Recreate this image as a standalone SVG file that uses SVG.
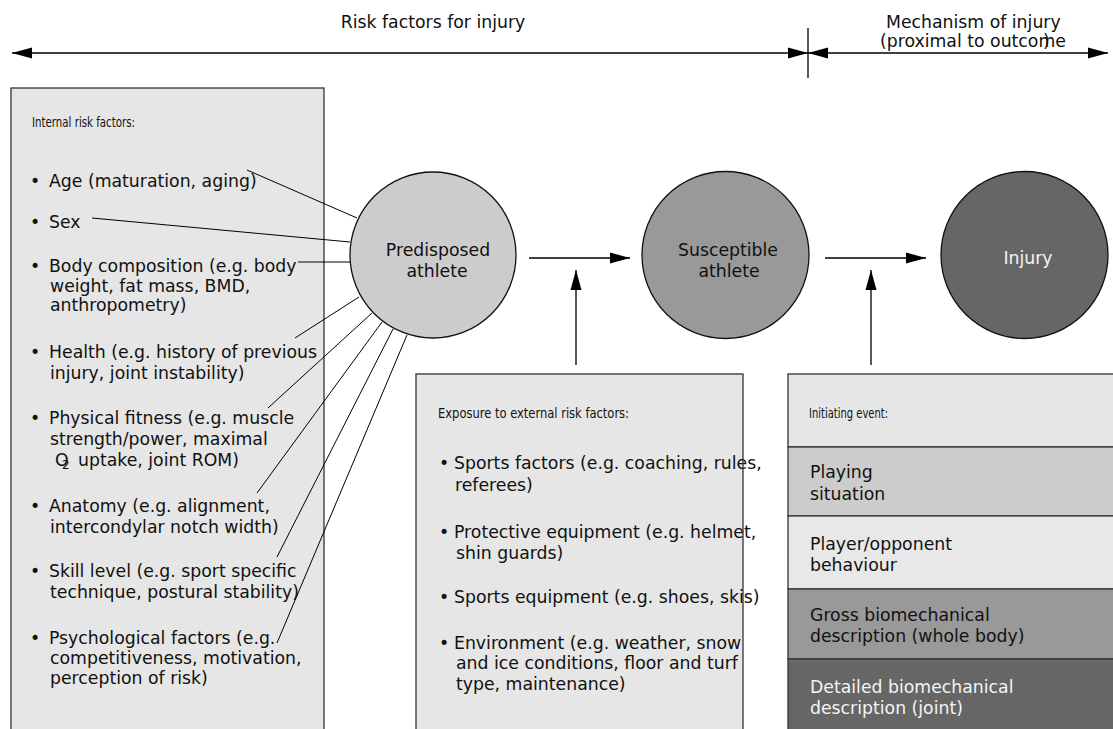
<svg xmlns="http://www.w3.org/2000/svg" width="1113" height="729" viewBox="0 0 1113 729">
<style>
  text { font-family: "DejaVu Sans", "Open Sans", sans-serif; font-size: 17.3px; fill: #111; }
  .hd { font-size: 14.5px; }
  .wt { fill: #f4f4f4; }
  .box { stroke: #333; stroke-width: 1.3; }
  .edge { stroke: #000; stroke-width: 1; fill: none; }
  .arr { stroke: #000; stroke-width: 1.3; fill: none; }
  .circ { stroke: #111; stroke-width: 1.3; }
</style>
<defs>
  <marker id="ah" markerWidth="20" markerHeight="12" refX="20" refY="6" orient="auto-start-reverse" markerUnits="userSpaceOnUse">
    <path d="M0,0.5 L20,6 L0,11.5 Z" fill="#000"/>
  </marker>
</defs>
<rect width="1113" height="729" fill="#fff"/>

<g id="header">
  <text x="433" y="28" text-anchor="middle">Risk factors for injury</text>
  <text x="886" y="28">Mechanism of injury</text>
  <text x="880" y="47">(proximal to outcome</text>
  <text x="1043" y="47">)</text>
</g>

<g id="internal-risk-factors">
  <rect class="box" x="11" y="88" width="313" height="660" fill="#e6e6e6"/>
  <text class="hd" x="32" y="127" textLength="103" lengthAdjust="spacingAndGlyphs">Internal risk factors:</text>
  <text x="30" y="187">•</text><text x="49" y="187">Age (maturation, aging)</text>
  <text x="30" y="228">•</text><text x="49" y="228">Sex</text>
  <text x="30" y="272">•</text><text x="49" y="272">Body composition (e.g. body</text>
  <text x="50" y="292">weight, fat mass, BMD,</text>
  <text x="50" y="311">anthropometry)</text>
  <text x="30" y="358">•</text><text x="49" y="358">Health (e.g. history of previous</text>
  <text x="50" y="379">injury, joint instability)</text>
  <text x="30" y="424">•</text><text x="49" y="424">Physical fitness (e.g. muscle</text>
  <text x="50" y="445">strength/power, maximal</text>
  <text x="55" y="466">O<tspan x="62" y="469" font-size="12">2</tspan><tspan x="78" y="466">uptake, joint ROM)</tspan></text>
  <text x="30" y="512">•</text><text x="49" y="512">Anatomy (e.g. alignment,</text>
  <text x="50" y="533">intercondylar notch width)</text>
  <text x="30" y="577">•</text><text x="49" y="577">Skill level (e.g. sport specific</text>
  <text x="50" y="598">technique, postural stability)</text>
  <text x="30" y="644">•</text><text x="49" y="644">Psychological factors (e.g.</text>
  <text x="50" y="664">competitiveness, motivation,</text>
  <text x="50" y="684">perception of risk)</text>
</g>

<g id="predisposed-athlete">
  <circle class="circ" cx="433" cy="255" r="83" fill="#cccccc"/>
  <text x="438" y="256" text-anchor="middle">Predisposed</text>
  <text x="437" y="277" text-anchor="middle">athlete</text>
</g>

<g id="susceptible-athlete">
  <circle class="circ" cx="725.5" cy="255" r="83.5" fill="#999999"/>
  <text x="728" y="256" text-anchor="middle">Susceptible</text>
  <text x="729" y="277" text-anchor="middle">athlete</text>
</g>

<g id="injury">
  <circle class="circ" cx="1024.5" cy="255" r="83.5" fill="#666666"/>
  <text class="wt" x="1028" y="264" text-anchor="middle">Injury</text>
</g>

<g id="external-risk-factors">
  <rect x="416" y="374" width="327" height="380" fill="#e6e6e6"/>
  <text class="hd" x="438" y="418" textLength="191" lengthAdjust="spacingAndGlyphs">Exposure to external risk factors:</text>
  <text x="439" y="469">•</text><text x="454" y="469">Sports factors (e.g. coaching, rules,</text>
  <text x="455" y="491">referees)</text>
  <text x="439" y="538">•</text><text x="454" y="538">Protective equipment (e.g. helmet,</text>
  <text x="456" y="559">shin guards)</text>
  <text x="439" y="603">•</text><text x="454" y="603">Sports equipment (e.g. shoes, skis)</text>
  <text x="439" y="649">•</text><text x="454" y="649">Environment (e.g. weather, snow</text>
  <text x="456" y="669">and ice conditions, floor and turf</text>
  <text x="456" y="690">type, maintenance)</text>
  <rect class="box" x="416" y="374" width="327" height="380" fill="none"/>
</g>

<g id="inciting-event">
  <rect class="box" x="788" y="374" width="340" height="73" fill="#e6e6e6"/>
  <text class="hd" x="809" y="418" textLength="79" lengthAdjust="spacingAndGlyphs">Initiating event:</text>
</g>
<g id="playing-situation">
  <rect class="box" x="788" y="447" width="340" height="69" fill="#cccccc"/>
  <text x="810" y="478">Playing</text>
  <text x="810" y="500">situation</text>
</g>
<g id="player-behaviour">
  <rect class="box" x="788" y="516" width="340" height="73" fill="#e8e8e8"/>
  <text x="810" y="550">Player/opponent</text>
  <text x="810" y="571">behaviour</text>
</g>
<g id="gross-biomechanical">
  <rect class="box" x="788" y="589" width="340" height="70" fill="#999999"/>
  <text x="810" y="621">Gross biomechanical</text>
  <text x="810" y="642">description (whole body)</text>
</g>
<g id="detailed-biomechanical">
  <rect class="box" x="788" y="659" width="340" height="90" fill="#666666"/>
  <text class="wt" x="810" y="693">Detailed biomechanical</text>
  <text class="wt" x="810" y="714">description (joint)</text>
</g>

<g id="connectors">
  <line class="arr" x1="12" y1="53" x2="808" y2="53" marker-start="url(#ah)" marker-end="url(#ah)"/>
  <line class="arr" x1="808" y1="53" x2="1108" y2="53" marker-start="url(#ah)" marker-end="url(#ah)"/>
  <line class="arr" x1="808" y1="28" x2="808" y2="78"/>
  <line class="arr" x1="529" y1="258" x2="630" y2="258" marker-end="url(#ah)"/>
  <line class="arr" x1="576" y1="365" x2="576" y2="270" marker-end="url(#ah)"/>
  <line class="arr" x1="825" y1="258" x2="926" y2="258" marker-end="url(#ah)"/>
  <line class="arr" x1="871" y1="365" x2="871" y2="270" marker-end="url(#ah)"/>
  <line class="edge" x1="247" y1="170" x2="357" y2="218"/>
  <line class="edge" x1="92" y1="218" x2="350" y2="242"/>
  <line class="edge" x1="298" y1="262" x2="350" y2="262"/>
  <line class="edge" x1="295" y1="338" x2="359" y2="297"/>
  <line class="edge" x1="268" y1="408" x2="372" y2="313"/>
  <line class="edge" x1="257" y1="493" x2="382" y2="322"/>
  <line class="edge" x1="277" y1="557" x2="393" y2="329"/>
  <line class="edge" x1="277" y1="643" x2="407" y2="335"/>
</g>
</svg>
